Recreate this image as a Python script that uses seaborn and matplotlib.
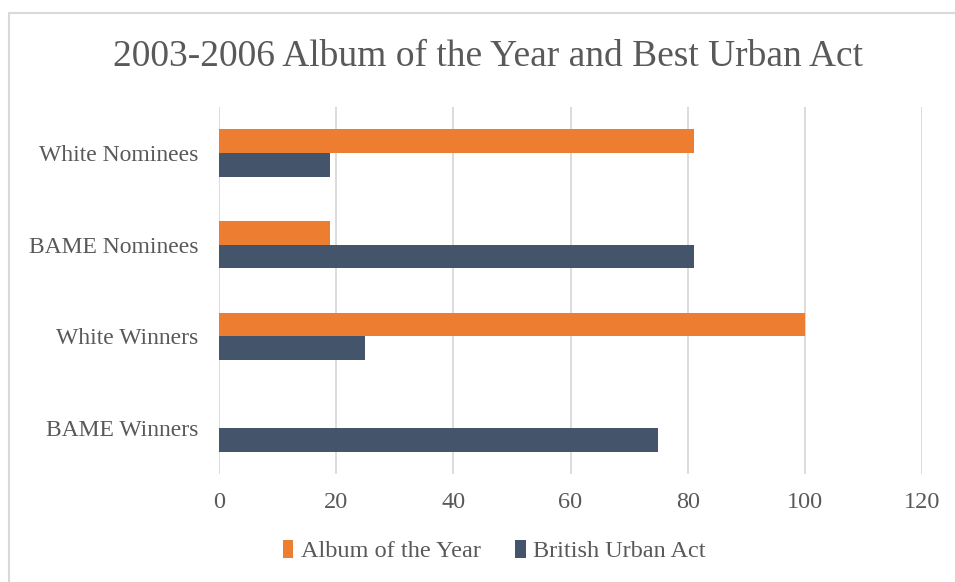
import matplotlib
matplotlib.use("Agg")
import matplotlib.pyplot as plt
import matplotlib.patches as mpatches
import seaborn as sns
import pandas as pd

categories = ["White Nominees", "BAME Nominees", "White Winners", "BAME Winners"]
series_names = ["Album of the Year", "British Urban Act"]
album_of_the_year = [81, 19, 100, 0]
british_urban_act = [19, 81, 25, 75]
x_ticks = [0, 20, 40, 60, 80, 100, 120]

colors = ["#ED7D31", "#44546A"]
text_color = "#595959"
grid_color = "#D9D9D9"

df = pd.DataFrame({
    "category": categories * 2,
    "series": [series_names[0]] * 4 + [series_names[1]] * 4,
    "value": album_of_the_year + british_urban_act,
})

sns.set_theme(style="white")
plt.rcParams["font.family"] = ["Liberation Serif", "DejaVu Serif"]

fig = plt.figure(figsize=(9.55, 5.82), dpi=100)
ax = fig.add_axes([219 / 955, 1 - 474 / 582, (922 - 219) / 955, (474 - 107) / 582])

sns.barplot(data=df, y="category", x="value", hue="series", order=categories,
            hue_order=series_names, palette=colors, orient="h", width=0.52,
            dodge=True, saturation=1, linewidth=0, ax=ax, legend=False)

ax.set_xlim(0, 120)
ax.set_ylim(3.5, -0.5)
ax.set_xticks(x_ticks)
ax.set_xticklabels([str(t) for t in x_ticks])
ax.xaxis.grid(True, color=grid_color, linewidth=1.3)
ax.set_axisbelow(True)
for s in ax.spines.values():
    s.set_visible(False)
ax.set_xlabel("")
ax.set_ylabel("")
ax.tick_params(axis="x", length=0, pad=13, labelsize=17.5, labelcolor=text_color)
ax.tick_params(axis="y", length=0, pad=15, labelsize=17, labelcolor=text_color)

fig.text(488 / 955, 1 - 57 / 582, "2003-2006 Album of the Year and Best Urban Act",
         ha="center", va="center", fontsize=27, color=text_color)

handles = [mpatches.Patch(facecolor=c, edgecolor="none", label=n)
           for c, n in zip(colors, series_names)]
fig.legend(handles=handles, loc="center", bbox_to_anchor=(494 / 955, 1 - 551 / 582),
           ncol=2, frameon=False, fontsize=17.5, labelcolor=text_color,
           handlelength=0.45, handleheight=0.8, handletextpad=0.3, columnspacing=1.4)

fig.patches.append(mpatches.Rectangle((9 / 955, -0.05), 1.1, 1 - 13 / 582 + 0.05,
                                      transform=fig.transFigure, fill=False,
                                      edgecolor="#D9D9D9", linewidth=1.5))

fig.savefig("out.png", dpi=100)
